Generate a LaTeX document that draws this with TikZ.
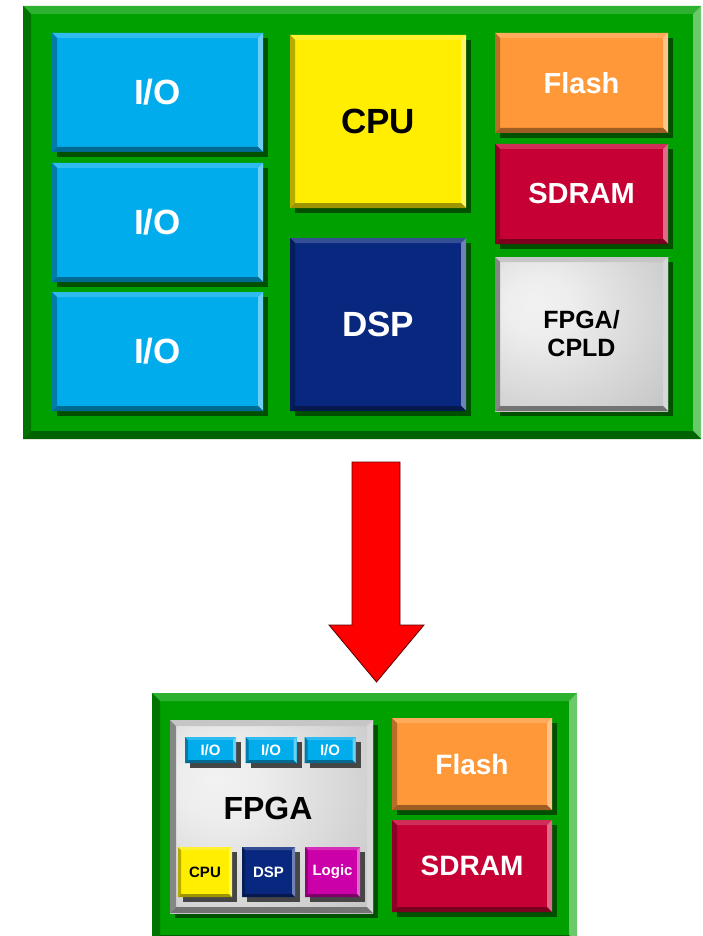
\documentclass[tikz,border=0pt]{standalone}
\usepackage{fontspec}
\setmainfont{Liberation Sans}
\usetikzlibrary{shapes,arrows,positioning}

\definecolor{board}{RGB}{0,160,0}
\definecolor{boardshd}{RGB}{0,80,0}
\definecolor{iob}{RGB}{0,172,236}
\definecolor{cpuy}{RGB}{255,238,0}
\definecolor{dspb}{RGB}{8,40,128}
\definecolor{flasho}{RGB}{255,152,56}
\definecolor{sdramr}{RGB}{198,0,52}
\definecolor{logicm}{RGB}{204,0,168}
\definecolor{chipg}{RGB}{186,186,186}

\pgfdeclareradialshading{chipshade}{\pgfpoint{-14bp}{10bp}}{color(0bp)=(gray!10); color(10bp)=(gray!14); color(40bp)=(gray!42); color(62bp)=(gray!62); color(100bp)=(gray!62)}

% bevelled edges: light top/right, dark left/bottom
\tikzset{
  bevel width/.store in=\bevw, bevel width=5pt,
  bevel/.style={path picture={
    \coordinate (pnw) at (path picture bounding box.north west);
    \coordinate (pne) at (path picture bounding box.north east);
    \coordinate (psw) at (path picture bounding box.south west);
    \coordinate (pse) at (path picture bounding box.south east);
    \fill[#1!82!white] (pnw) -- (pne) -- ([shift={(-\bevw,-\bevw)}]pne) -- ([shift={(\bevw,-\bevw)}]pnw) -- cycle;
    \fill[#1!58!white] (pne) -- (pse) -- ([shift={(-\bevw,\bevw)}]pse) -- ([shift={(-\bevw,-\bevw)}]pne) -- cycle;
    \fill[#1!72!black] (pnw) -- (psw) -- ([shift={(\bevw,\bevw)}]psw) -- ([shift={(\bevw,-\bevw)}]pnw) -- cycle;
    \fill[#1!62!black] (psw) -- (pse) -- ([shift={(-\bevw,\bevw)}]pse) -- ([shift={(\bevw,\bevw)}]psw) -- cycle;
  }},
  shd/.style={preaction={fill=#1, transform canvas={shift={(5pt,-5pt)}}}},
}
\tikzstyle{pcb}=[rectangle,fill=board,bevel=board,bevel width=8pt,inner sep=0pt]
\tikzstyle{blk}=[rectangle,fill=#1,bevel=#1,shd=boardshd,inner sep=0pt,text=white,align=center]
\tikzstyle{chip}=[rectangle,shading=chipshade,bevel=chipg,shd=boardshd,inner sep=0pt,align=center]
\tikzstyle{mini}=[rectangle,fill=#1,bevel=#1,bevel width=3pt,shd=gray!55!black,inner sep=0pt,text=white]
\tikzstyle{big}=[font=\bfseries\fontsize{35}{35}\selectfont]
\tikzstyle{mid}=[font=\bfseries\fontsize{29}{29}\selectfont]
\tikzstyle{tiny}=[font=\bfseries\fontsize{15}{15}\selectfont]

\begin{document}
\begin{tikzpicture}[x=1pt,y=-1pt]
\useasboundingbox[fill=white] (0,0) rectangle (702,936);
% discrete board
\node[pcb, minimum width=678pt, minimum height=433pt] (board) at (362,222.5) {};
\node[blk=iob, big, minimum width=211pt, minimum height=119pt] (io1) at (157.5,92.5) {I/O};
\node[blk=iob, big, minimum width=211pt, minimum height=119pt] (io2) at (157.5,222.5) {I/O};
\node[blk=iob, big, minimum width=211pt, minimum height=119pt] (io3) at (157.5,351.5) {I/O};
\node[blk=cpuy, big, text=black, minimum width=176pt, minimum height=173pt] (cpu) at (378,121.5) {CPU};
\node[blk=dspb, big, minimum width=176pt, minimum height=173pt] (dsp) at (378,324.5) {DSP};
\node[blk=flasho, mid, minimum width=173pt, minimum height=100pt] (flash) at (581.5,83) {Flash};
\node[blk=sdramr, mid, minimum width=173pt, minimum height=100pt] (sdram) at (581.5,194) {SDRAM};
\node[chip, font=\bfseries\fontsize{25}{28}\selectfont, minimum width=173pt, minimum height=154pt] (cpld) at (581.5,334) {FPGA/\\CPLD};

% arrow
\draw[fill=red, draw=red!35!black, line width=0.8pt] (352,462) -- (400,462) -- (400,625) -- (424,625) -- (376.5,682) -- (329,625) -- (352,625) -- cycle;

% integrated board
\node[pcb, minimum width=425pt, minimum height=250pt] (board2) at (364.5,818) {};
\node[chip, bevel width=6pt, minimum width=203pt, minimum height=193pt] (fpga) at (271.5,816.5) {};
\node[font=\bfseries\fontsize{32}{32}\selectfont] (fpgatxt) at (268,808) {FPGA};
\node[mini=iob, tiny, minimum width=51pt, minimum height=26pt] (sio1) at (210.5,750) {I/O};
\node[mini=iob, tiny, minimum width=51pt, minimum height=26pt] (sio2) at (271,750) {I/O};
\node[mini=iob, tiny, minimum width=51pt, minimum height=26pt] (sio3) at (330,750) {I/O};
\node[mini=cpuy, tiny, text=black, minimum width=54pt, minimum height=50pt] (scpu) at (205,872) {CPU};
\node[mini=dspb, tiny, minimum width=53pt, minimum height=50pt] (sdsp) at (268.5,872) {DSP};
\node[mini=logicm, tiny, minimum width=55pt, minimum height=50pt] (slogic) at (332.5,872) {Logic};
\node[blk=flasho, mid, font=\bfseries\fontsize{28}{28}\selectfont, minimum width=160pt, minimum height=92pt] (flash2) at (472,764) {Flash};
\node[blk=sdramr, mid, font=\bfseries\fontsize{28}{28}\selectfont, minimum width=160pt, minimum height=92pt] (sdram2) at (472,866) {SDRAM};
\end{tikzpicture}
\end{document}
